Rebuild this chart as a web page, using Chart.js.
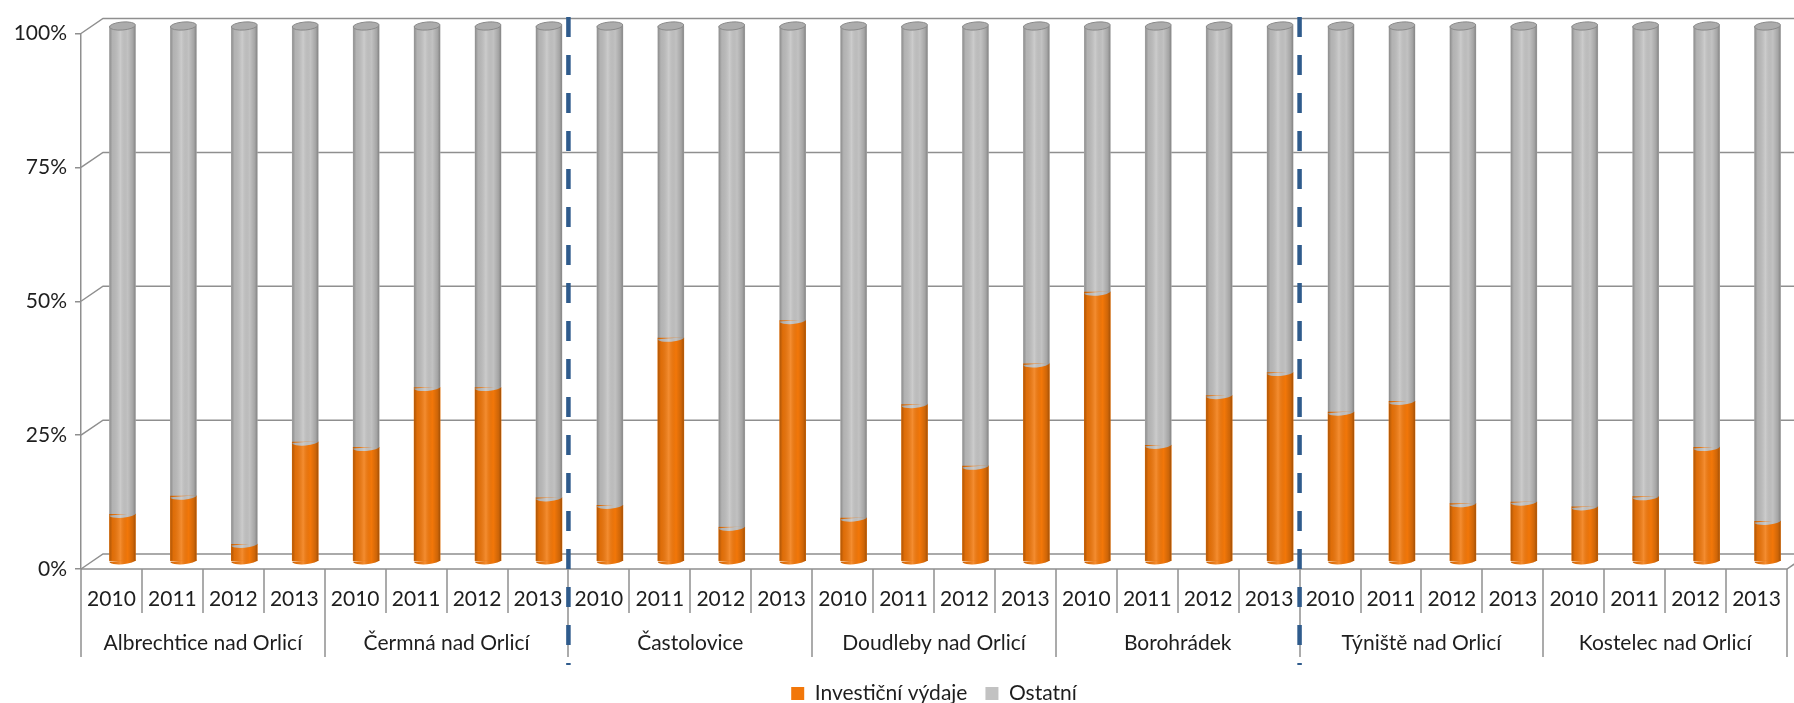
<!DOCTYPE html>
<html lang="cs">
<head>
<meta charset="utf-8">
<title>Investiční výdaje</title>
<script src="https://cdn.jsdelivr.net/npm/chart.js@4.4.1/dist/chart.umd.min.js"></script>
<style>
    html, body { margin: 0; padding: 0; background: #fff; }
    #wrap { width: 1794px; height: 703px; }
</style>
</head>
<body>
<div id="wrap"><canvas id="chart" width="1794" height="703"></canvas></div>
<script>
(function() {
    'use strict';

    const groups = ['Albrechtice nad Orlicí', 'Čermná nad Orlicí', 'Častolovice', 'Doudleby nad Orlicí', 'Borohrádek', 'Týniště nad Orlicí', 'Kostelec nad Orlicí'];
    const years = ['2010', '2011', '2012', '2013'];
    const investicni = [8.8, 12.2, 3.2, 22.3, 21.3, 32.5, 32.5, 11.9, 10.5, 41.7, 6.4, 45.0, 8.1, 29.3, 17.8, 36.9, 50.3, 21.7, 31.0, 35.3, 27.9, 29.9, 10.8, 11.1, 10.2, 12.1, 21.3, 7.5];
    const ostatni = [91.2, 87.8, 96.8, 77.7, 78.7, 67.5, 67.5, 88.1, 89.5, 58.3, 93.6, 55.0, 91.9, 70.7, 82.2, 63.1, 49.7, 78.3, 69.0, 64.7, 72.1, 70.1, 89.2, 88.9, 89.8, 87.9, 78.7, 92.5];
    const yTicks = [0, 25, 50, 75, 100];
    const dashedAfterGroup = [2, 5];

    const labels = [];
    groups.forEach(() => years.forEach(y => labels.push(y)));

    const FONT = 'Lato, "Open Sans", sans-serif';
    const GRID = '#8f8f8f';
    const DEPTH_X = 22;
    const DEPTH_Y = -15;
    const BAR_DX = 11;
    const BAR_DY = -7.5;
    const LEGEND_H = 38;

    Chart.defaults.font.family = FONT;
    Chart.defaults.color = '#1e1e1e';

    function shade(ctx, left, width) {
        const g = ctx.createLinearGradient(left, 0, left + width, 0);
        g.addColorStop(0, 'rgba(0,0,0,0.28)');
        g.addColorStop(0.12, 'rgba(0,0,0,0.08)');
        g.addColorStop(0.42, 'rgba(255,255,255,0.16)');
        g.addColorStop(0.7, 'rgba(0,0,0,0.0)');
        g.addColorStop(0.9, 'rgba(0,0,0,0.15)');
        g.addColorStop(1, 'rgba(0,0,0,0.32)');
        return g;
    }

    // back wall + floor, then shift the bars half a depth back
    const wallPlugin = {
        id: 'wall3d',
        beforeDatasetsDraw(chart) {
            const {ctx, chartArea: a, scales} = chart;
            const ys = scales.y;
            ctx.save();
            ctx.strokeStyle = GRID;
            ctx.lineWidth = 1.5;
            yTicks.forEach(v => {
                const y = ys.getPixelForValue(v);
                ctx.beginPath();
                ctx.moveTo(a.left, y);
                ctx.lineTo(a.left + DEPTH_X, y + DEPTH_Y);
                ctx.lineTo(chart.width + 40, y + DEPTH_Y);
                ctx.stroke();
            });
            const y0 = ys.getPixelForValue(0);
            ctx.beginPath();
            ctx.moveTo(a.left, y0);
            ctx.lineTo(a.right, y0);
            ctx.lineTo(a.right + DEPTH_X, y0 + DEPTH_Y);
            ctx.stroke();
            ctx.restore();

            ctx.save();
            ctx.translate(BAR_DX, BAR_DY);
        },
        afterDatasetsDraw(chart) {
            const {ctx} = chart;
            chart.data.datasets.forEach((ds, di) => {
                const meta = chart.getDatasetMeta(di);
                meta.data.forEach(el => {
                    const p = el.getProps(['x', 'y', 'base', 'width'], true);
                    const left = p.x - p.width / 2;
                    const rx = p.width / 2;
                    const g = shade(ctx, left, p.width);
                    ctx.fillStyle = g;
                    ctx.fillRect(left, p.y, p.width, p.base - p.y);
                    // rounded bottom edge
                    ctx.beginPath();
                    ctx.ellipse(p.x, p.base, rx, 3.5, -0.08, 0, Math.PI);
                    ctx.closePath();
                    ctx.fillStyle = ds.backgroundColor;
                    ctx.fill();
                    ctx.fillStyle = g;
                    ctx.fill();
                    if (di === chart.data.datasets.length - 1) {
                        ctx.beginPath();
                        ctx.ellipse(p.x, p.y, rx, 4, -0.08, 0, Math.PI * 2);
                        ctx.fillStyle = '#acacac';
                        ctx.fill();
                        ctx.strokeStyle = '#8a8a8a';
                        ctx.lineWidth = 1;
                        ctx.stroke();
                    }
                });
            });
            ctx.restore();
        },
        afterDraw(chart) {
            const {ctx, scales} = chart;
            const xs = scales.x;
            const y0 = scales.y.getPixelForValue(0);
            const n = labels.length;
            const per = years.length;

            ctx.save();
            ctx.strokeStyle = GRID;
            ctx.lineWidth = 1.5;
            for (let i = 0; i <= n; i++) {
                const x = Math.round(xs.getPixelForValue(i - 0.5));
                const isGroup = i % per === 0;
                ctx.beginPath();
                ctx.moveTo(x, y0);
                ctx.lineTo(x, isGroup ? y0 + 88 : y0 + 44);
                ctx.stroke();
            }

            ctx.fillStyle = '#1e1e1e';
            ctx.font = '21px ' + FONT;
            ctx.textAlign = 'center';
            ctx.textBaseline = 'middle';
            groups.forEach((name, g) => {
                const cx = (xs.getPixelForValue(g * per) + xs.getPixelForValue(g * per + per - 1)) / 2;
                ctx.fillText(name, cx, y0 + 74);
            });

            ctx.strokeStyle = '#2f5b8c';
            ctx.lineWidth = 4.5;
            ctx.setLineDash([20, 18]);
            dashedAfterGroup.forEach(g => {
                const x = xs.getPixelForValue(g * per - 0.5);
                ctx.beginPath();
                ctx.moveTo(x, 17);
                ctx.lineTo(x, 665);
                ctx.stroke();
            });
            ctx.restore();
        }
    };

    new Chart(document.getElementById('chart'), {
        type: 'bar',
        data: {
            labels: labels,
            datasets: [{
                label: 'Investiční výdaje',
                data: investicni,
                backgroundColor: '#f27709',
                borderWidth: 0,
                barThickness: 26,
                clip: false
            }, {
                label: 'Ostatní',
                data: ostatni,
                backgroundColor: '#c2c2c2',
                borderWidth: 0,
                barThickness: 26,
                clip: false
            }]
        },
        options: {
            responsive: false,
            animation: false,
            layout: {
                padding: { top: 33.5, right: 7, left: 0, bottom: 0 }
            },
            plugins: {
                tooltip: { enabled: false },
                legend: {
                    position: 'bottom',
                    fullSize: false,
                    maxHeight: LEGEND_H,
                    labels: {
                        boxWidth: 13,
                        boxHeight: 13,
                        padding: 18,
                        color: '#1e1e1e',
                        font: { size: 21, family: FONT }
                    }
                }
            },
            scales: {
                x: {
                    stacked: true,
                    grid: { display: false },
                    border: { display: false },
                    ticks: {
                        padding: 10,
                        maxRotation: 0,
                        autoSkip: false,
                        font: { size: 21 }
                    },
                    afterFit: function(s) { s.height = 703 - LEGEND_H - 569; }
                },
                y: {
                    stacked: true,
                    min: 0,
                    max: 100,
                    ticks: {
                        stepSize: 25,
                        padding: 8,
                        font: { size: 21 },
                        callback: v => v + '%'
                    },
                    grid: {
                        drawOnChartArea: false,
                        drawTicks: true,
                        tickLength: 6,
                        color: GRID,
                        lineWidth: 1.5
                    },
                    border: { display: true, color: GRID, width: 1.5 },
                    afterFit: function(s) { s.width = 81; }
                }
            }
        },
        plugins: [wallPlugin]
    });
})();
</script>
</body>
</html>
